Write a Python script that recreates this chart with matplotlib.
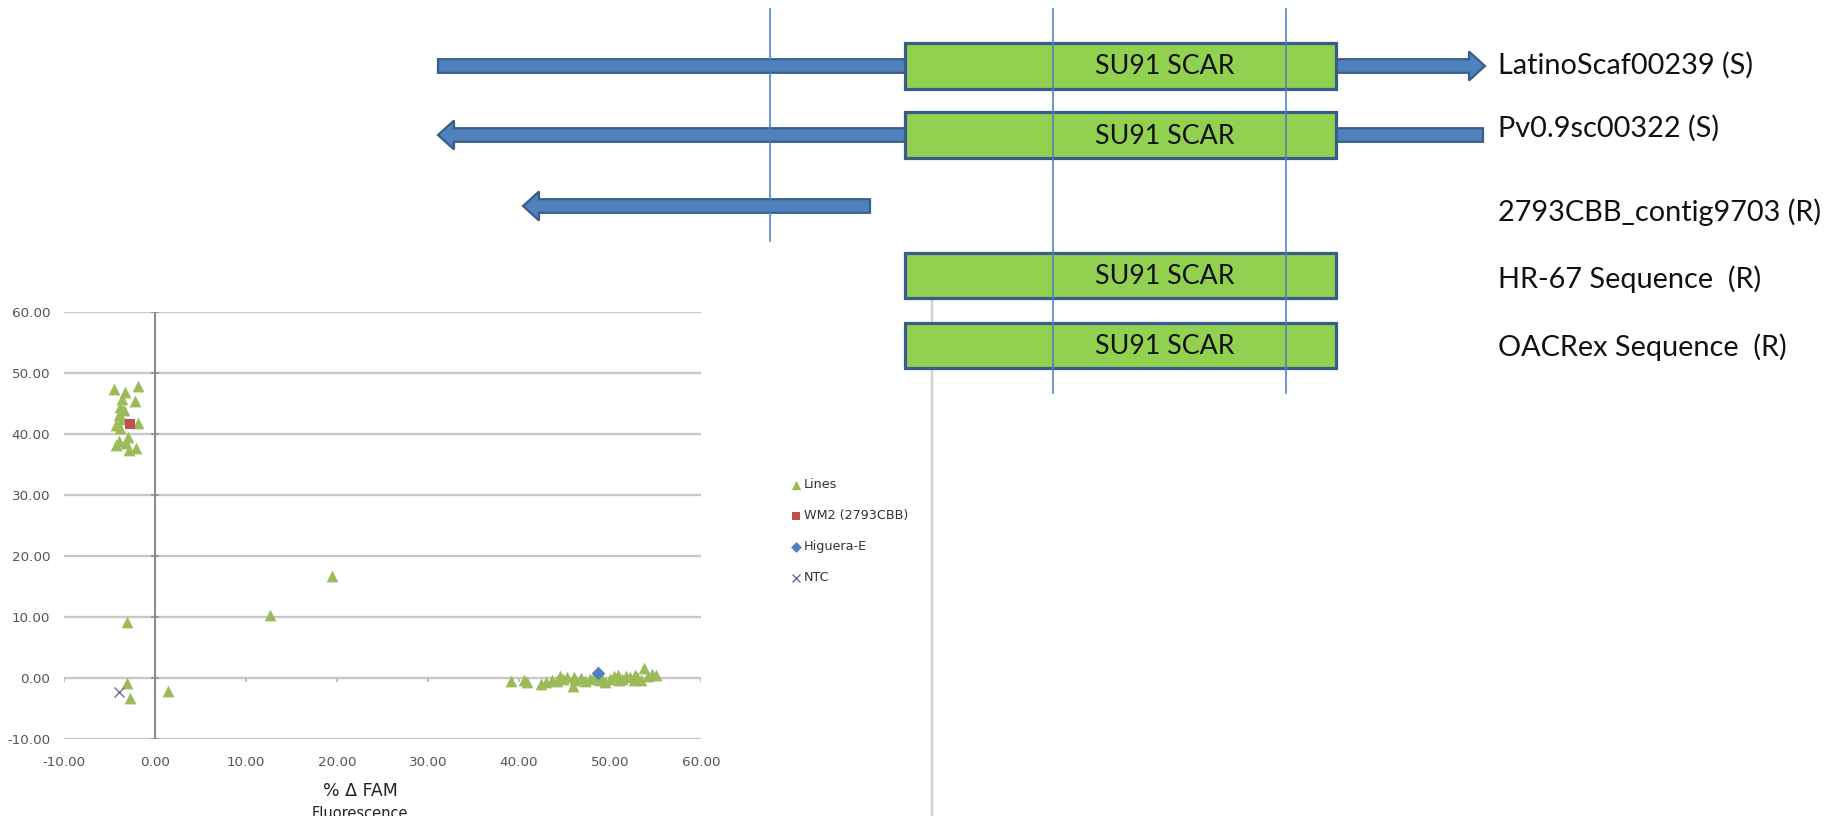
import matplotlib
matplotlib.use("Agg")
import matplotlib.pyplot as plt
from matplotlib.patches import Polygon, Rectangle
from matplotlib.ticker import FormatStrFormatter

W, H, DPI = 1829, 816, 100

# ---- scatter data: % change in fluorescence ----
lines_x = [-4.5, -1.9, -3.3, -3.6, -2.2, -3.8, -3.4, -4.0, -3.6, -4.3, -3.9, -1.9,
           -4.0, -3.2, -4.3, -2.9, -2.1, -3.0,
           -3.1, -3.1, -2.75, 1.4, 12.6, 19.5,
           39.1, 40.5, 40.9, 42.4, 43.0, 43.6, 44.2, 44.5, 44.8, 45.3, 45.9, 46.0,
           46.2, 46.8, 47.3, 47.8, 48.2, 48.9, 49.0, 49.5, 50.0, 50.4, 50.9, 51.0,
           51.3, 51.8, 52.2, 52.6, 52.8, 53.0, 53.4, 53.7, 54.2, 54.6, 55.0]
lines_y = [47.4, 47.8, 46.9, 45.8, 45.4, 44.5, 44.0, 43.1, 42.5, 41.5, 41.0, 41.8,
           38.8, 38.5, 38.2, 37.4, 37.7, 39.5,
           9.2, -0.9, -3.3, -2.2, 10.3, 16.7,
           -0.55, -0.3, -0.6, -1.0, -0.6, -0.3, -0.5, 0.3, -0.1, 0.2, -1.25, 0.1,
           -0.4, 0.0, -0.5, -0.2, 0.1, -0.3, 0.2, -0.6, -0.1, 0.3, 0.5, -0.4,
           -0.2, 0.4, 0.1, -0.3, 0.5, 0.2, -0.4, 1.6, 0.3, 0.6, 0.5]
wm2_x, wm2_y = [-2.8], [41.7]
higuera_x, higuera_y = [48.7], [0.8]
ntc_x, ntc_y = [-4.0], [-2.35]
x_ticks = [-10, 0, 10, 20, 30, 40, 50, 60]
y_ticks = [-10, 0, 10, 20, 30, 40, 50, 60]
series_names = ["Lines", "WM2 (2793CBB)", "Higuera-E", "NTC"]

# ---- sequence diagram (figure pixel units) ----
track_labels = ["LatinoScaf00239 (S)", "Pv0.9sc00322 (S)", "2793CBB_contig9703 (R)",
                "HR-67 Sequence  (R)", "OACRex Sequence  (R)"]
track_y = [66, 135, 206, 275.5, 345.5]
label_y = [65, 128, 212, 279, 347]
contig_left = [438, 438, 523, None, None]
contig_right = [1485, 1483, 870, None, None]
contig_dir = ["right", "left", "left", None, None]
has_scar = [True, True, False, True, True]
scar_left, scar_right = 905, 1335.5
scar_text = "SU91 SCAR"
primer_x = [770, 1053, 1286]
primer_bottom = [241, 393, 393]

GREEN = "#9BBB59"
RED = "#C0504D"
BLUE = "#4F81BD"
PURPLE = "#8064A2"
DARK_BLUE = "#385D8A"
BOX_GREEN = "#92D050"
PX = 72.0 / DPI  # one pixel in points

plt.rcParams["font.family"] = ["DejaVu Sans"]
fig = plt.figure(figsize=(W / DPI, H / DPI), dpi=DPI)
fig.patch.set_facecolor("white")

# full-figure canvas for the diagram
ax_d = fig.add_axes([0, 0, 1, 1])
ax_d.set_xlim(0, W)
ax_d.set_ylim(H, 0)
ax_d.axis("off")

# frame line of the embedded chart
ax_d.plot([932, 932], [255, H], color="#d2d2d2", lw=2.5 * PX, zorder=1)

shaft, head, head_len = 6.8, 14.5, 16
for x0, x1, d, yc in zip(contig_left, contig_right, contig_dir, track_y):
    if x0 is None:
        continue
    if d == "right":
        xb = x1 - head_len
        verts = [(x0, yc - shaft), (xb, yc - shaft), (xb, yc - head), (x1, yc),
                 (xb, yc + head), (xb, yc + shaft), (x0, yc + shaft)]
    else:
        xb = x0 + head_len
        verts = [(x1, yc - shaft), (xb, yc - shaft), (xb, yc - head), (x0, yc),
                 (xb, yc + head), (xb, yc + shaft), (x1, yc + shaft)]
    ax_d.add_patch(Polygon(verts, closed=True, facecolor=BLUE, edgecolor=DARK_BLUE,
                           lw=2.2 * PX, joinstyle="miter", zorder=2))

box_h = 45.6
text_cx = 1165
for scar, yc in zip(has_scar, track_y):
    if not scar:
        continue
    ax_d.add_patch(Rectangle((scar_left, yc - box_h / 2), scar_right - scar_left, box_h,
                             facecolor=BOX_GREEN, edgecolor=DARK_BLUE, lw=3.2 * PX,
                             joinstyle="miter", zorder=3))
    ax_d.text(text_cx, yc + 1, scar_text, ha="center", va="center", fontsize=19.3,
              family=["Lato", "DejaVu Sans"], color="#111111", zorder=5)

for px_, yb in zip(primer_x, primer_bottom):
    ax_d.plot([px_, px_], [9, yb], color=BLUE, lw=1.6 * PX, zorder=6)

for lab, yl in zip(track_labels, label_y):
    ax_d.text(1498, yl, lab, ha="left", va="center", fontsize=20.8,
              family=["Lato", "DejaVu Sans"], color="#111111")

# ---- scatter chart ----
left, right, top, bottom = 64, 701, 312, 739
ax = fig.add_axes([left / W, 1 - bottom / H, (right - left) / W, (bottom - top) / H])
ax.set_xlim(-10, 60)
ax.set_ylim(-10, 60)
for s in ax.spines.values():
    s.set_visible(False)
ax.set_facecolor("none")
for yv in y_ticks:
    ax.axhline(yv, color="#c8c8c8", lw=2.4 * PX, zorder=0)
ax.axvline(0, color="#8a8a8a", lw=2.0 * PX, zorder=1)
ax.vlines([xv for xv in x_ticks if xv != 0], 0, -0.7, color="#c0c0c0", lw=2 * PX, zorder=1)
ax.hlines(y_ticks, -0.4, 0.4, color="#8a8a8a", lw=1.5 * PX, zorder=1)

ax.set_xticks(x_ticks)
ax.set_yticks(y_ticks)
ax.xaxis.set_major_formatter(FormatStrFormatter("%.2f"))
ax.yaxis.set_major_formatter(FormatStrFormatter("%.2f"))
ax.tick_params(axis="both", length=0, labelsize=9.7, labelcolor="#555555")
ax.tick_params(axis="x", pad=12)
ax.tick_params(axis="y", pad=10)

h1 = ax.scatter(lines_x, lines_y, marker="^", s=72, color=GREEN, linewidths=0, zorder=3)
h2 = ax.scatter(wm2_x, wm2_y, marker="s", s=62, color=RED, linewidths=0, zorder=4)
h3 = ax.scatter(higuera_x, higuera_y, marker="D", s=48, color=BLUE, linewidths=0, zorder=4)
h4 = ax.scatter(ntc_x, ntc_y, marker="x", s=52, color=PURPLE, linewidths=1.0, zorder=4)

fig.text(360 / W, 1 - 791 / H, "% Δ FAM", ha="center", va="center", fontsize=12.5,
         color="#222222")
fig.text(360 / W, 1 - 806 / H, "Fluorescence", ha="center", va="top", fontsize=10.5,
         color="#222222")

leg = fig.legend([h1, h2, h3, h4], series_names, loc="upper left",
                 bbox_to_anchor=(792 / W, 1 - 478 / H), frameon=False,
                 fontsize=9.2, handlelength=0.7, handletextpad=0.25,
                 labelspacing=1.42, borderaxespad=0, borderpad=0,
                 markerscale=0.8, scatterpoints=1)
for t in leg.get_texts():
    t.set_color("#333333")

fig.savefig("out.png", dpi=DPI, facecolor="white")
